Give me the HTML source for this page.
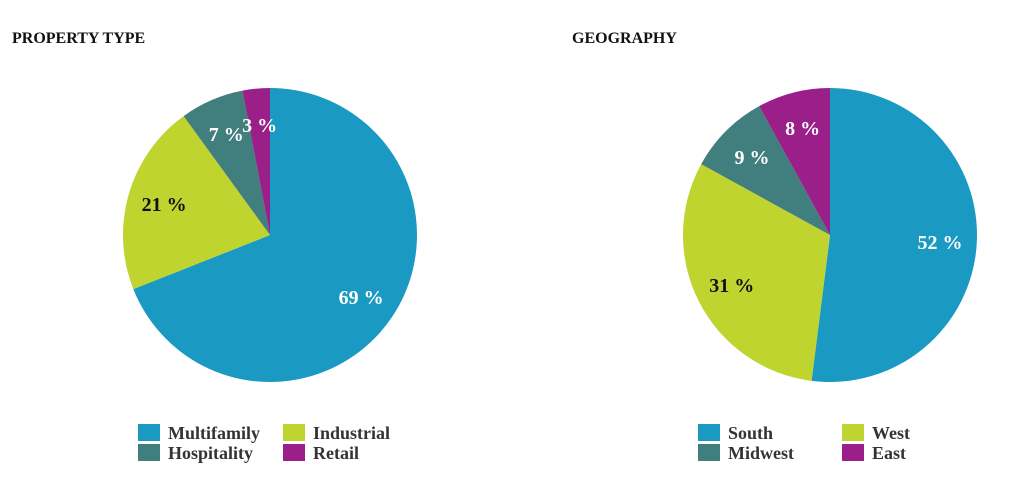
<!DOCTYPE html>
<html><head><meta charset="utf-8"><style>
body{margin:0;background:#fff;width:1024px;height:477px;overflow:hidden;font-family:"Liberation Serif",serif;}
svg{position:absolute;left:0;top:0}
</style></head><body>
<svg width="1024" height="477">
<g id="g1"></g>
<g id="g2"></g>
</svg>
<script>
const ptCategories=["Multifamily","Industrial","Hospitality","Retail"];
const ptValues=[69,21,7,3];
const geoCategories=["South","West","Midwest","East"];
const geoValues=[52,31,9,8];
const colors=["#1a99c3","#bfd42e","#417e7e","#9a1f88"];
const labelColors=["#fff","#111","#fff","#fff"];
const NS="http://www.w3.org/2000/svg";
function mk(t,a,p){const e=document.createElementNS(NS,t);for(const k in a)e.setAttribute(k,a[k]);p.appendChild(e);return e;}
function pie(g,title,tx,cx,cy,R,cats,vals,legX,legX2){
  const t=mk("text",{x:tx,y:43,"font-size":16,"font-weight":"bold",fill:"#111"},g);t.textContent=title;
  
  
  const tot=vals.reduce((a,b)=>a+b,0);let a0=0;
  vals.forEach((v,i)=>{
    const a1=a0+v/tot*2*Math.PI;
    const x0=cx+R*Math.sin(a0),y0=cy-R*Math.cos(a0),x1=cx+R*Math.sin(a1),y1=cy-R*Math.cos(a1);
    const p=mk("path",{d:`M${cx},${cy}L${x0},${y0}A${R},${R} 0 ${a1-a0>Math.PI?1:0} 1 ${x1},${y1}Z`,fill:colors[i]},g);
    
    
    a0=a1;
  });
  a0=0;
  vals.forEach((v,i)=>{
    const am=a0+v/tot*Math.PI;a0+=v/tot*2*Math.PI;
    const r=R*0.75;
    const l=mk("text",{x:cx+r*Math.sin(am),y:cy-r*Math.cos(am)+7,"text-anchor":"middle","font-size":20,"font-weight":"bold",fill:labelColors[i]},g);
    l.textContent=v+" %";
    
    
  });
  cats.forEach((c,i)=>{
    const x=i%2?legX2:legX,y=424+Math.floor(i/2)*20;
    const r=mk("rect",{x:x,y:y,width:22,height:17,fill:colors[i]},g);
    
    
    const tt=mk("text",{x:x+30,y:y+15,"font-size":18,"font-weight":"bold",fill:"#333"},g);tt.textContent=c;
    
    
  });
}
pie(document.getElementById("g1"),"PROPERTY TYPE",12,270,235,147,ptCategories,ptValues,138,283);
pie(document.getElementById("g2"),"GEOGRAPHY",572,830,235,147,geoCategories,geoValues,698,842);
</script>
</body></html>
